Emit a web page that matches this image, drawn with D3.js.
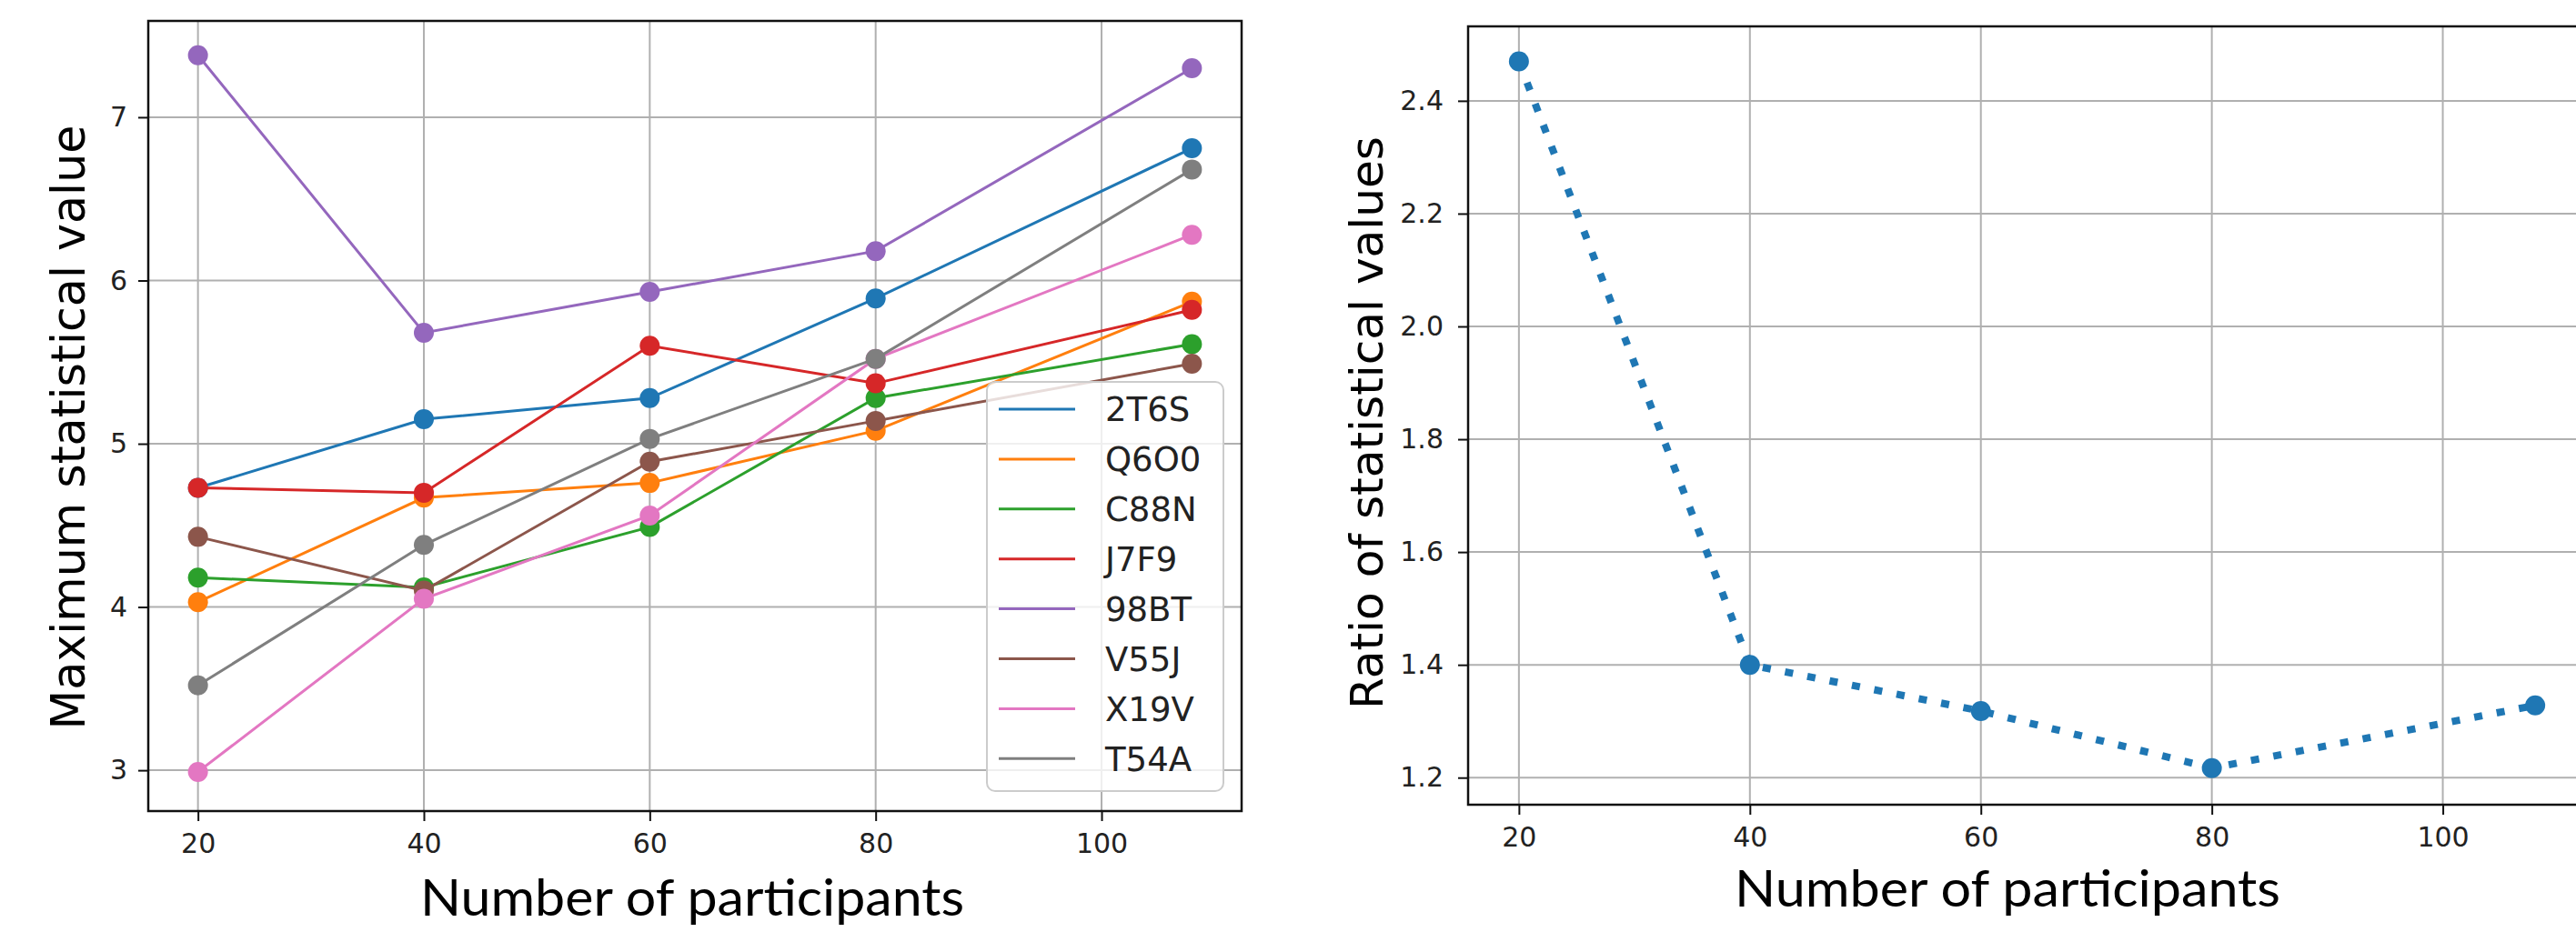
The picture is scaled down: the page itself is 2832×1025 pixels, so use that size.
<!DOCTYPE html>
<html>
<head>
<meta charset="utf-8">
<script src="https://cdn.jsdelivr.net/npm/d3@7"></script>
<style>
  body { margin: 0; background: #fff; }
  svg { display: block; }
  .tick text { font-family: "DejaVu Sans", sans-serif; fill: #222; }
</style>
</head>
<body>
<svg id="chart" width="2832" height="1025"></svg>
<script>
"use strict";

// ---- data
const participants = [20, 40, 60, 80, 108];
const seriesNames = ["2T6S", "Q6O0", "C88N", "J7F9", "98BT", "V55J", "X19V", "T54A"];
const vals2T6S = [4.73, 5.15, 5.28, 5.89, 6.81];
const valsQ6O0 = [4.03, 4.67, 4.76, 5.08, 5.87];
const valsC88N = [4.18, 4.12, 4.49, 5.28, 5.61];
const valsJ7F9 = [4.73, 4.70, 5.60, 5.37, 5.82];
const vals98BT = [7.38, 5.68, 5.93, 6.18, 7.30];
const valsV55J = [4.43, 4.10, 4.89, 5.14, 5.49];
const valsX19V = [2.99, 4.05, 4.56, 5.52, 6.28];
const valsT54A = [3.52, 4.38, 5.03, 5.52, 6.68];
const ratioValues = [2.47, 1.40, 1.318, 1.217, 1.328];

const xTicks = [20, 40, 60, 80, 100];
const leftYTicks = [3, 4, 5, 6, 7];
const rightYTicks = [1.2, 1.4, 1.6, 1.8, 2.0, 2.2, 2.4];
const palette = ["#1f77b4", "#ff7f0e", "#2ca02c", "#d62728", "#9467bd", "#8c564b", "#e377c2", "#7f7f7f"];

const allSeries = [vals2T6S, valsQ6O0, valsC88N, valsJ7F9, vals98BT, valsV55J, valsX19V, valsT54A];

const svg = d3.select("#chart");

// ---- one matplotlib-like panel: frame, grid, ticks
function panel(box, xDom, yDom, yTicks, yFmt, yPad) {
  const x = d3.scaleLinear().domain(xDom).range([box.x0, box.x1]);
  const y = d3.scaleLinear().domain(yDom).range([box.y1, box.y0]);
  const g = svg.append("g");

  // grid
  g.append("g").selectAll("line").data(xTicks).enter().append("line")
    .attr("x1", d => x(d)).attr("x2", d => x(d))
    .attr("y1", box.y0).attr("y2", box.y1)
    .attr("stroke", "#b0b0b0").attr("stroke-width", 2);
  g.append("g").selectAll("line").data(yTicks).enter().append("line")
    .attr("x1", box.x0).attr("x2", box.x1)
    .attr("y1", d => y(d)).attr("y2", d => y(d))
    .attr("stroke", "#b0b0b0").attr("stroke-width", 2);

  // axes
  const ax = g.append("g").attr("transform", `translate(0,${box.y1})`)
    .call(d3.axisBottom(x).tickValues(xTicks).tickSize(11).tickPadding(14));
  const ay = g.append("g").attr("transform", `translate(${box.x0},0)`)
    .call(d3.axisLeft(y).tickValues(yTicks).tickFormat(yFmt).tickSize(11).tickPadding(yPad));
  [ax, ay].forEach(a => {
    a.select(".domain").remove();
    a.selectAll(".tick line").attr("stroke", "#111").attr("stroke-width", 2);
    a.selectAll(".tick text").style("font-size", "30px");
  });

  const layer = svg.append("g");
  return {x, y, g, layer, box};
}

function frame(p) {
  const b = p.box;
  svg.append("rect").attr("x", b.x0).attr("y", b.y0)
    .attr("width", b.x1 - b.x0).attr("height", b.y1 - b.y0)
    .attr("fill", "none").attr("stroke", "#111").attr("stroke-width", 2.5);
}

// ---- left panel: maximum statistical value per name
const L = panel({x0: 163, x1: 1365, y0: 23, y1: 892}, [15.6, 112.4], [2.75, 7.59],
                leftYTicks, d3.format("d"), 12);

const line = (p) => d3.line().x((d, i) => p.x(participants[i])).y(d => p.y(d));

allSeries.forEach((vals, k) => {
  const sg = L.layer.append("g");
  sg.append("path").datum(vals).attr("d", line(L))
    .attr("fill", "none").attr("stroke", palette[k]).attr("stroke-width", 3);
  sg.selectAll("circle").data(vals).enter().append("circle")
    .attr("cx", (d, i) => L.x(participants[i])).attr("cy", d => L.y(d))
    .attr("r", 11).attr("fill", palette[k]);
});

// legend
const leg = svg.append("g").attr("transform", "translate(1085,420)");
leg.append("rect").attr("width", 260).attr("height", 450).attr("rx", 9)
  .attr("fill", "#fff").attr("fill-opacity", 0.8)
  .attr("stroke", "#cccccc").attr("stroke-width", 2);
seriesNames.forEach((name, k) => {
  const row = leg.append("g").attr("transform", `translate(0,${30 + k * 54.9})`);
  row.append("line").attr("x1", 13).attr("x2", 97).attr("y1", 0).attr("y2", 0)
    .attr("stroke", palette[k]).attr("stroke-width", 3);
  row.append("text").attr("x", 130).attr("y", 0).attr("dy", "0.36em")
    .style("font-family", "DejaVu Sans, sans-serif").style("font-size", "37px")
    .attr("fill", "#222").text(name);
});

frame(L);

svg.append("text").attr("transform", "rotate(-90)")
  .attr("x", -470).attr("y", 93).attr("text-anchor", "middle")
  .attr("textLength", 665).attr("lengthAdjust", "spacingAndGlyphs")
  .style("font-family", "DejaVu Sans, sans-serif").style("font-size", "51px")
  .text("Maximum statistical value");
svg.append("text").attr("x", 761).attr("y", 1007).attr("text-anchor", "middle")
  .attr("textLength", 598).attr("lengthAdjust", "spacingAndGlyphs")
  .style("font-family", "Lato, sans-serif").style("font-size", "56px")
  .text("Number of participants");

// ---- right panel: ratio of statistical values
const R = panel({x0: 1614, x1: 2843, y0: 29, y1: 885}, [15.6, 112.4], [1.152, 2.532],
                rightYTicks, d3.format(".1f"), 16);

R.layer.append("path").datum(ratioValues).attr("d", line(R))
  .attr("fill", "none").attr("stroke", "#1f77b4").attr("stroke-width", 8)
  .attr("stroke-dasharray", "9,16");
R.layer.selectAll("circle").data(ratioValues).enter().append("circle")
  .attr("cx", (d, i) => R.x(participants[i])).attr("cy", d => R.y(d))
  .attr("r", 11).attr("fill", "#1f77b4");

frame(R);

svg.append("text").attr("transform", "rotate(-90)")
  .attr("x", -465).attr("y", 1520).attr("text-anchor", "middle")
  .attr("textLength", 630).attr("lengthAdjust", "spacingAndGlyphs")
  .style("font-family", "DejaVu Sans, sans-serif").style("font-size", "50px")
  .text("Ratio of statistical values");
svg.append("text").attr("x", 2207).attr("y", 997).attr("text-anchor", "middle")
  .attr("textLength", 600).attr("lengthAdjust", "spacingAndGlyphs")
  .style("font-family", "Lato, sans-serif").style("font-size", "56px")
  .text("Number of participants");
</script>
</body>
</html>
